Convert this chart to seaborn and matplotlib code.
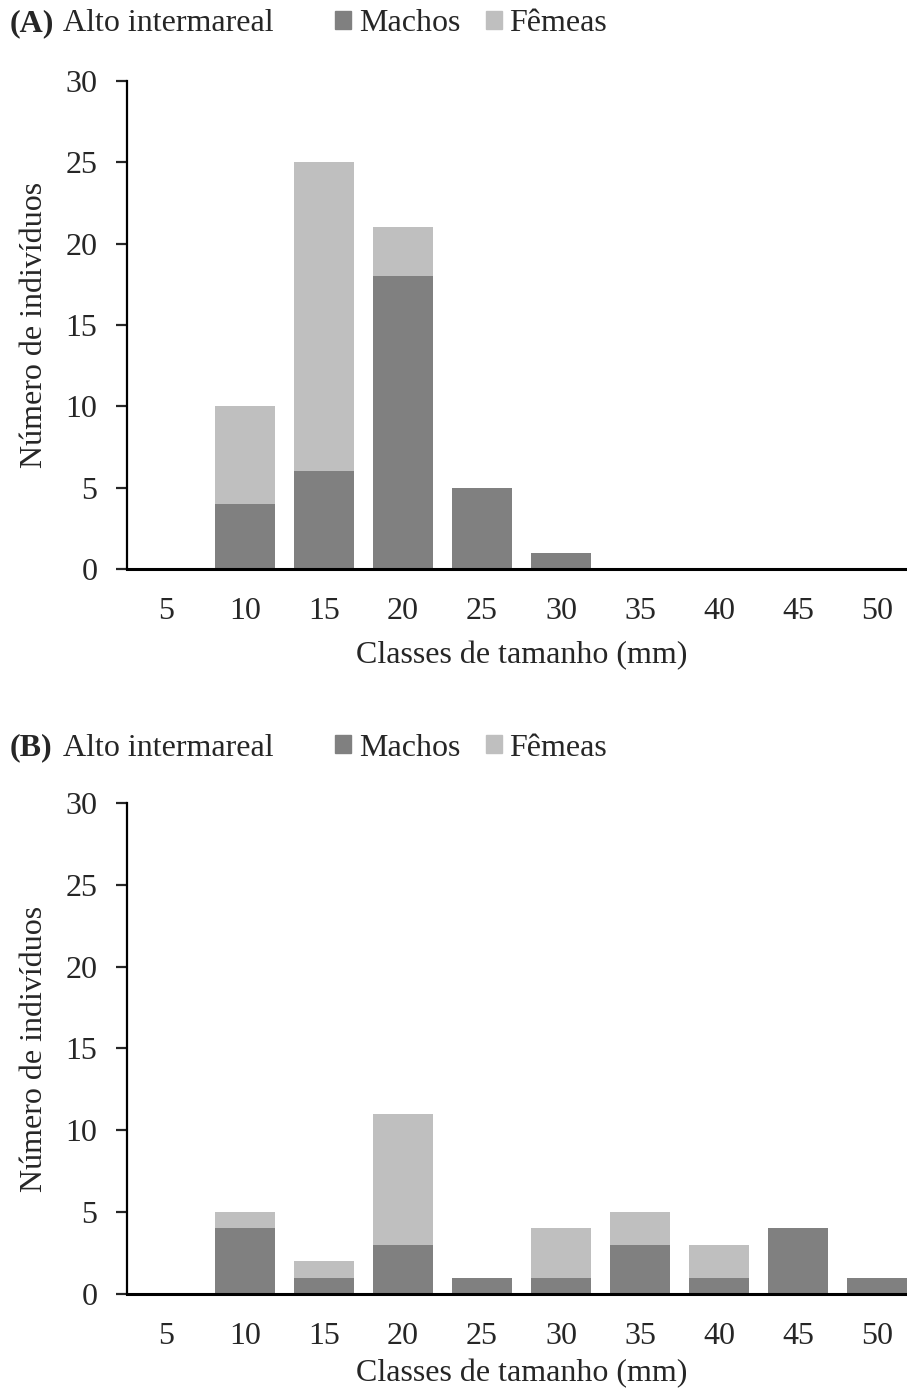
import numpy as np
import pandas as pd
import matplotlib
matplotlib.use('Agg')
import matplotlib.pyplot as plt
import seaborn as sns
from matplotlib.patches import Patch

# 数据
classes = ['5', '10', '15', '20', '25', '30', '35', '40', '45', '50']
machos_a = [0, 4, 6, 18, 5, 1, 0, 0, 0, 0]
femeas_a = [0, 6, 19, 3, 0, 0, 0, 0, 0, 0]
machos_b = [0, 4, 1, 3, 1, 1, 3, 1, 4, 1]
femeas_b = [0, 1, 1, 8, 0, 3, 2, 2, 0, 0]

cor_machos = '#808080'
cor_femeas = '#bfbfbf'
fs = 23

sns.set_style('white')
plt.rcParams['font.family'] = ['Liberation Serif', 'DejaVu Serif']
plt.rcParams['font.size'] = fs

fig = plt.figure(figsize=(9.07, 13.93), dpi=100)
ax_a = fig.add_axes([0.1395, 0.5915, 0.871, 0.3503])
ax_b = fig.add_axes([0.1395, 0.0711, 0.871, 0.3525])

paineis = [(ax_a, machos_a, femeas_a, '(A)', 0.983, 11),
           (ax_b, machos_b, femeas_b, '(B)', 0.463, 6)]

for ax, machos, femeas, letra, ytit, lpad in paineis:
    df = pd.DataFrame({'classe': classes, 'Machos': machos, 'Fêmeas': femeas})
    df['total'] = df['Machos'] + df['Fêmeas']
    sns.barplot(data=df, x='classe', y='total', color=cor_femeas, width=0.77,
                saturation=1, ax=ax, edgecolor='none')
    sns.barplot(data=df, x='classe', y='Machos', color=cor_machos, width=0.77,
                saturation=1, ax=ax, edgecolor='none')
    ax.set_xlim(-0.5, 9.5)
    ax.set_ylim(0, 30)
    ax.set_yticks([0, 5, 10, 15, 20, 25, 30])
    sns.despine(ax=ax)
    ax.spines['left'].set_linewidth(1.6)
    ax.spines['bottom'].set_linewidth(2.2)
    ax.spines['left'].set_color('black')
    ax.spines['bottom'].set_color('black')
    ax.tick_params(axis='y', direction='out', length=8, width=1.6, pad=13,
                   left=True, labelsize=fs)
    ax.tick_params(axis='x', length=0, pad=20, labelsize=fs)
    ax.set_xlabel('Classes de tamanho (mm)', fontsize=fs, labelpad=lpad)
    ax.set_ylabel('Número de indivíduos', fontsize=fs)
    ax.yaxis.set_label_coords(-0.098, 0.5)
    ax.grid(False)

    fig.text(0.011, ytit, letra, fontsize=fs, fontweight='bold', va='center', ha='left')
    fig.text(0.069, ytit, 'Alto intermareal', fontsize=fs, va='center', ha='left')
    handles = [Patch(color=cor_machos, label='Machos'),
               Patch(color=cor_femeas, label='Fêmeas')]
    fig.legend(handles=handles, loc='center left', bbox_to_anchor=(0.369, ytit),
               ncol=2, frameon=False, fontsize=fs, handlelength=0.5,
               handleheight=0.5, handletextpad=0.25, columnspacing=0.8,
               borderaxespad=0, borderpad=0)

fig.savefig('out.png', dpi=100)
